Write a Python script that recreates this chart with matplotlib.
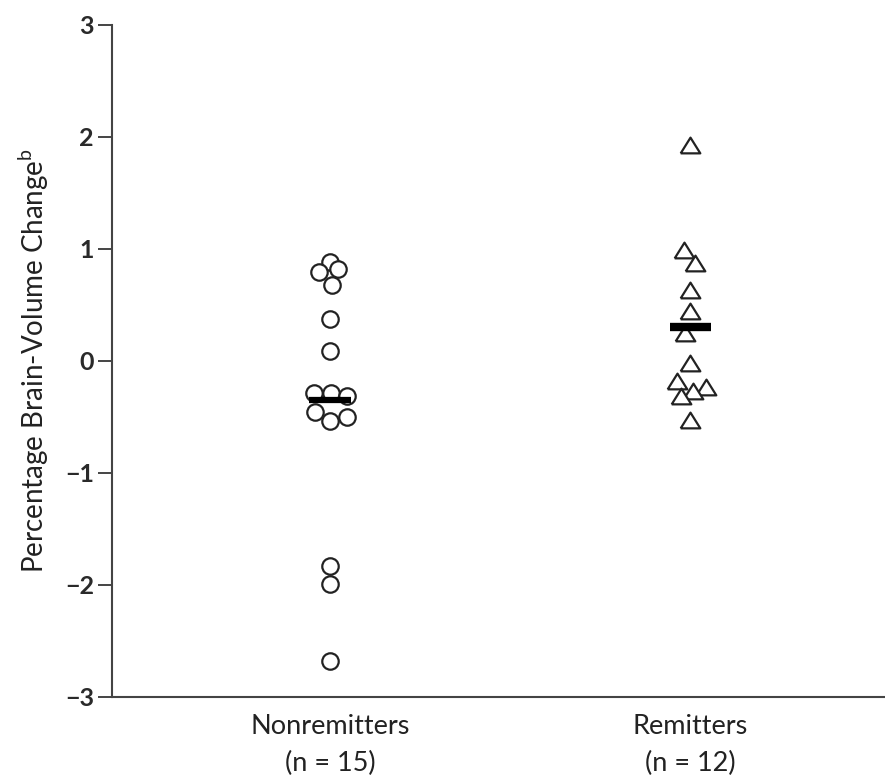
import matplotlib
matplotlib.use("Agg")
import matplotlib.pyplot as plt
import numpy as np

plt.rcParams['font.family'] = ['Lato', 'DejaVu Sans']

# Percentage brain-volume change per patient
nonremitters = [0.88, 0.79, 0.82, 0.68, 0.375, 0.09, -0.29, -0.29, -0.31,
                -0.46, -0.54, -0.50, -1.83, -1.99, -2.68]
remitters = [1.93, 0.99, 0.875, 0.63, 0.45, 0.25, -0.02, -0.18, -0.23,
             -0.27, -0.31, -0.53]

# horizontal spread used in the original so markers don't hide each other
nonremitters_jitter = [0.0, -0.03, 0.022, 0.006, 0.0, 0.0, -0.044, 0.003, 0.047,
                       -0.042, 0.0, 0.047, 0.0, 0.0, 0.0]
remitters_jitter = [0.0, -0.017, 0.014, 0.0, 0.0, -0.014, 0.0, -0.036, 0.044,
                    0.008, -0.025, 0.0]

group_labels = ["Nonremitters\n(n = 15)", "Remitters\n(n = 12)"]
y_ticks = [3, 2, 1, 0, -1, -2, -3]

# wide, flat triangle like the original
tri = [(-1.0, -0.8), (1.0, -0.8), (0.0, 0.8), (-1.0, -0.8)]

fig = plt.figure(figsize=(8.85, 7.77), dpi=100)
ax = fig.add_axes([0.1266, 0.103, 0.8734, 0.8649])

x0 = np.zeros(len(nonremitters)) + np.array(nonremitters_jitter)
x1 = np.ones(len(remitters)) + np.array(remitters_jitter)

ax.scatter(x0, nonremitters, s=140, marker='o', facecolors='white',
           edgecolors='#222222', linewidths=1.6, zorder=3)
ax.scatter(x1, remitters, s=200, marker=tri, facecolors='white',
           edgecolors='#222222', linewidths=1.6, zorder=3)

# group means as thick black bars
ax.hlines(np.mean(nonremitters), -0.058, 0.058, colors='black', linewidth=4.5, zorder=4)
ax.hlines(np.mean(remitters), 1 - 0.058, 1 + 0.058, colors='black', linewidth=6, zorder=4)

ax.set_xlim(-0.605, 1.54)
ax.set_ylim(-3, 3)
ax.set_yticks(y_ticks)
ax.set_yticklabels(["3", "2", "1", "0", "\u22121", "\u22122", "\u22123"],
                   fontsize=18, fontweight='bold', color='#2a2a2a')
ax.set_xticks([0, 1])
ax.set_xticklabels(group_labels, fontsize=19.5, linespacing=1.6, color='#222222')
ax.tick_params(axis='x', length=0, pad=12)
ax.tick_params(axis='y', length=10, width=1.4, color='#444444', pad=3)

ax.set_ylabel("Percentage Brain-Volume Change$^{\\mathregular{b}}$", fontsize=20,
              color='#222222', labelpad=10)

for side in ['top', 'right']:
    ax.spines[side].set_visible(False)
for side in ['left', 'bottom']:
    ax.spines[side].set_linewidth(1.5)
    ax.spines[side].set_color('#444444')

fig.savefig("out.png", dpi=100)
